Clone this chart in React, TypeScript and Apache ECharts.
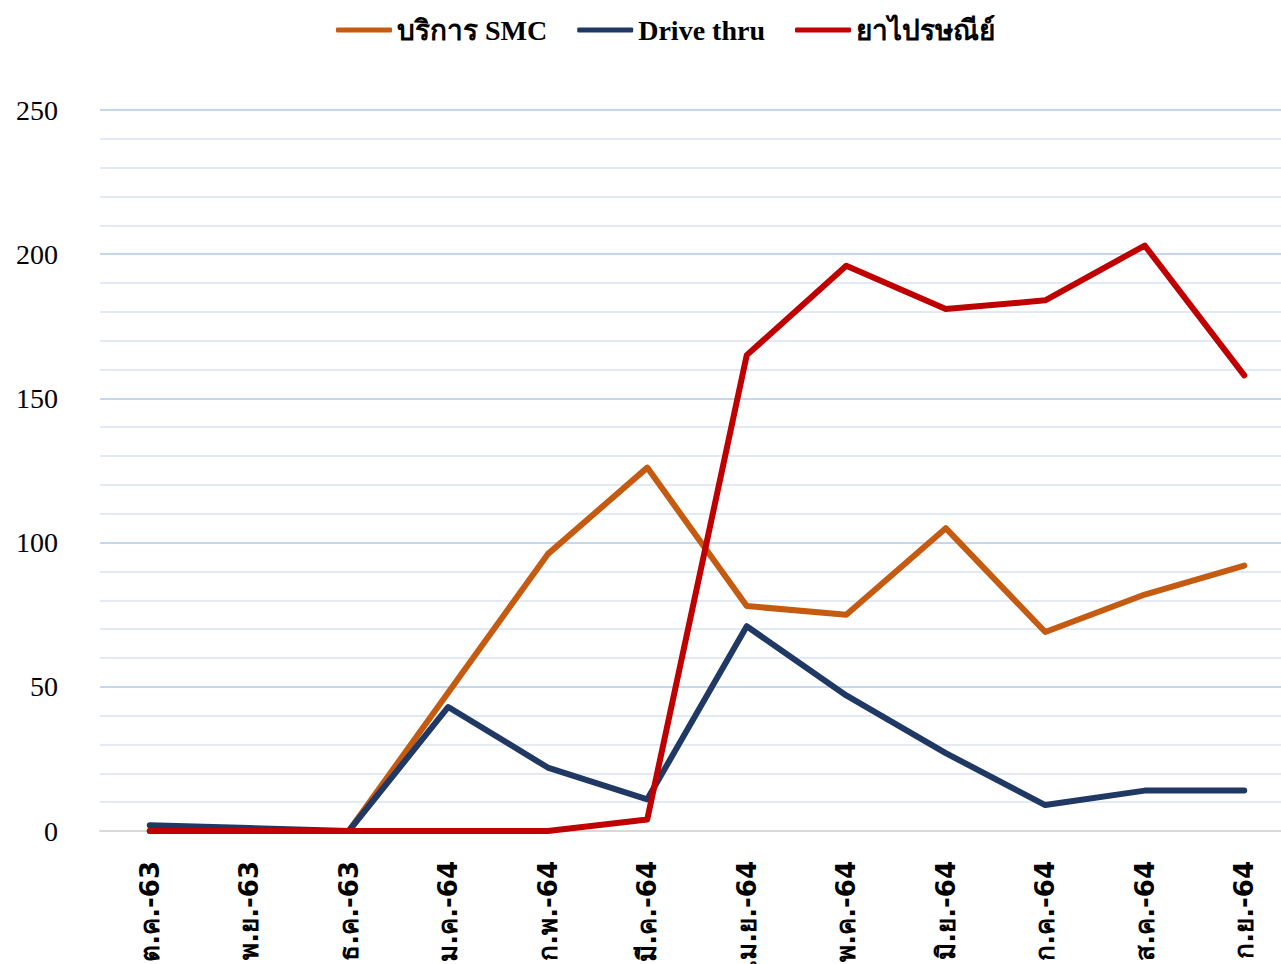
import React, { useEffect, useRef } from "react";
import * as echarts from "echarts";

const categories = ["ต.ค.-63", "พ.ย.-63", "ธ.ค.-63", "ม.ค.-64", "ก.พ.-64", "มี.ค.-64", "เม.ย.-64", "พ.ค.-64", "มิ.ย.-64", "ก.ค.-64", "ส.ค.-64", "ก.ย.-64"];
const smc = [0, 0, 0, 48, 96, 126, 78, 75, 105, 69, 82, 92];
const driveThru = [2, 1, 0, 43, 22, 11, 71, 47, 27, 9, 14, 14];
const postal = [0, 0, 0, 0, 0, 4, 165, 196, 181, 184, 203, 158];
const seriesNames = ["บริการ SMC", "Drive thru", "ยาไปรษณีย์"];
const colors = ["#c55a11", "#1f3864", "#c00000"];

export default function App() {
  const ref = useRef<HTMLDivElement>(null);
  useEffect(() => {
    if (!ref.current) return;
    const chart = echarts.init(ref.current, null, { renderer: "svg" });
    const data = [smc, driveThru, postal];
    chart.setOption({
      animation: false,
      color: colors,
      legend: {
        top: 11,
        left: 331,
        icon: "roundRect",
        itemWidth: 56,
        itemHeight: 5,
        itemGap: 30,
        textStyle: { fontFamily: "Liberation Serif", fontWeight: "bold", fontSize: 28, color: "#000" },
        data: seriesNames,
      },
      grid: { left: 100, right: 6, top: 110, bottom: 1010 - 831, containLabel: false },
      xAxis: {
        type: "category",
        data: categories,
        boundaryGap: true,
        axisLine: { show: true, lineStyle: { color: "#d9d9d9", width: 2 } },
        axisTick: { show: false },
        axisLabel: {
          rotate: 90,
          margin: 30,
          interval: 0,
          fontFamily: "Tahoma, DejaVu Sans, sans-serif",
          fontWeight: "bold",
          fontSize: 26,
          color: "#000",
        },
      },
      yAxis: {
        type: "value",
        min: 0,
        max: 250,
        interval: 50,
        axisLine: { show: false },
        axisTick: { show: false },
        axisLabel: { margin: 42, fontFamily: "Liberation Serif", fontSize: 28, color: "#000" },
        splitLine: { lineStyle: { color: "#b4c7e7", width: 1.5 } },
        minorTick: { show: false, splitNumber: 5 },
        minorSplitLine: { show: true, lineStyle: { color: "#dae3f3", width: 1.5 } },
      },
      series: seriesNames.map((name, i) => ({
        name,
        type: "line",
        data: data[i],
        symbol: "none",
        lineStyle: { width: 6, color: colors[i], cap: "round", join: "round" },
        z: 2 + i,
      })),
    });
    return () => chart.dispose();
  }, []);
  return (
    <div style={{ position: "fixed", left: 0, top: 0, width: 1281, height: 964, overflow: "hidden", background: "#fff" }}>
      <div ref={ref} style={{ position: "absolute", left: 0, top: 0, width: 1300, height: 1010 }} />
    </div>
  );
}
